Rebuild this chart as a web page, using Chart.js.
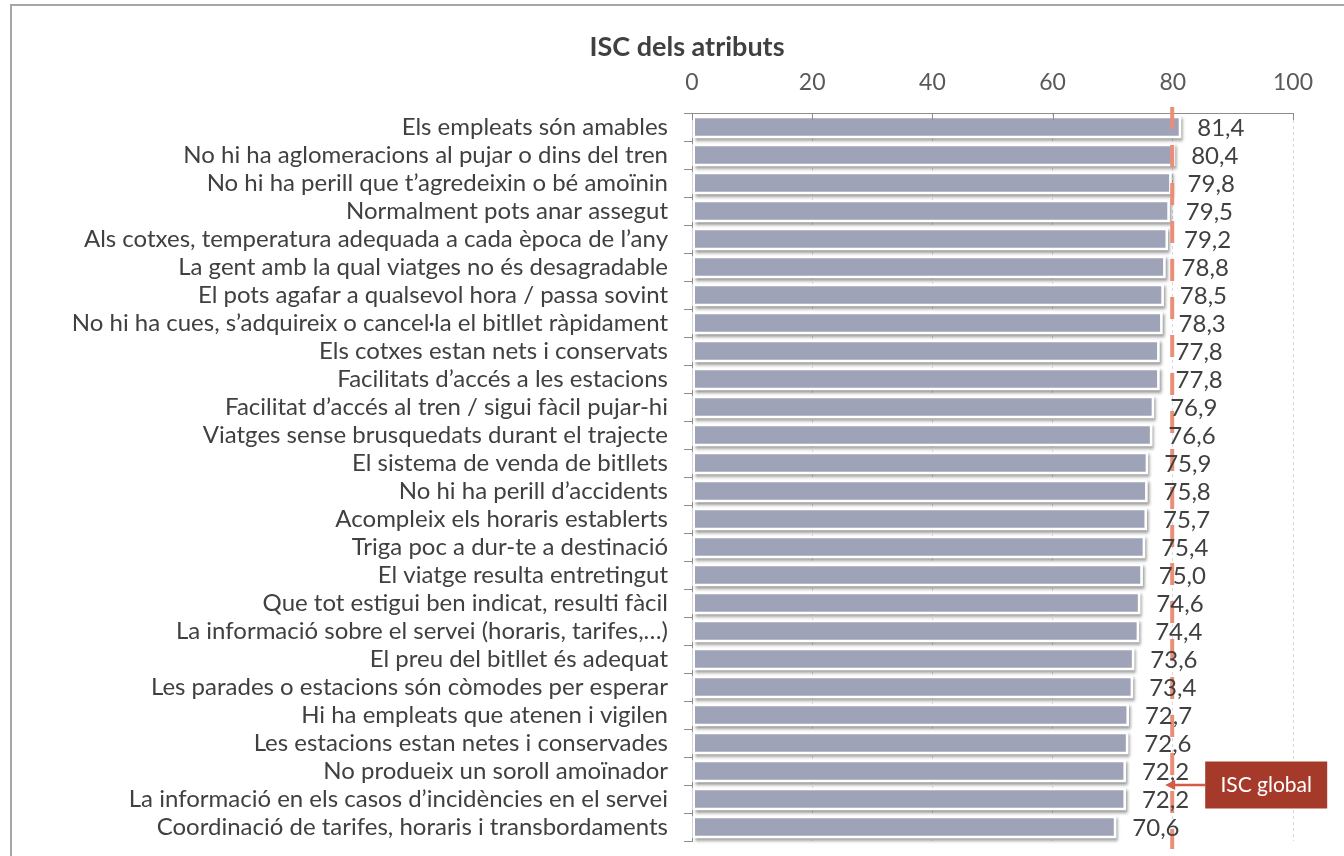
<!DOCTYPE html>
<html>
<head>
<meta charset="utf-8">
<script src="https://cdn.jsdelivr.net/npm/chart.js@4.4.1/dist/chart.umd.min.js"></script>
<style>
  html, body { margin: 0; padding: 0; background: #fff; overflow: hidden; }
  #wrap { position: relative; width: 1344px; height: 856px; }
  #frame { position: absolute; left: 10px; top: 4px; width: 1400px; height: 900px;
           border-top: 2px solid #a6a6a6; border-left: 2px solid #a6a6a6; }
  canvas { position: absolute; left: 0; top: 0; }
</style>
</head>
<body>
<div id="wrap">
  <div id="frame"></div>
  <canvas id="chart" width="1344" height="856"></canvas>
</div>
<script>
// Satisfaction index per attribute, with the global index marked as a dashed line.
const attributes = [
  'Els empleats són amables',
  'No hi ha aglomeracions al pujar o dins del tren',
  'No hi ha perill que t’agredeixin o bé amoïnin',
  'Normalment pots anar assegut',
  'Als cotxes, temperatura adequada a cada època de l’any',
  'La gent amb la qual viatges no és desagradable',
  'El pots agafar a qualsevol hora / passa sovint',
  'No hi ha cues, s’adquireix o cancel·la el bitllet ràpidament',
  'Els cotxes estan nets i conservats',
  'Facilitats d’accés a les estacions',
  'Facilitat d’accés al tren / sigui fàcil pujar-hi',
  'Viatges sense brusquedats durant el trajecte',
  'El sistema de venda de bitllets',
  'No hi ha perill d’accidents',
  'Acompleix els horaris establerts',
  'Triga poc a dur-te a destinació',
  'El viatge resulta entretingut',
  'Que tot estigui ben indicat, resulti fàcil',
  'La informació sobre el servei (horaris, tarifes,…)',
  'El preu del bitllet és adequat',
  'Les parades o estacions són còmodes per esperar',
  'Hi ha empleats que atenen i vigilen',
  'Les estacions estan netes i conservades',
  'No produeix un soroll amoïnador',
  'La informació en els casos d’incidències en el servei',
  'Coordinació de tarifes, horaris i transbordaments',
];
const iscValues = [81.4, 80.4, 79.8, 79.5, 79.2, 78.8, 78.5, 78.3, 77.8, 77.8, 76.9, 76.6, 75.9,
  75.8, 75.7, 75.4, 75.0, 74.6, 74.4, 73.6, 73.4, 72.7, 72.6, 72.2, 72.2, 70.6];
const xTicks = [0, 20, 40, 60, 80, 100];
const iscGlobal = [79.9];
const chartTitle = 'ISC dels atributs';
const globalLabel = 'ISC global';

const FONT = 'Lato, "Open Sans", sans-serif';
const TEXT = '#404040';
const fmt = (v) => v.toFixed(1).replace('.', ',');

const decorations = {
  id: 'decorations',
  beforeDatasetsDraw(chart) {
    // soft drop shadow under each bar
    const { ctx } = chart;
    const meta = chart.getDatasetMeta(0);
    ctx.save();
    ctx.fillStyle = '#ffffff';
    ctx.shadowColor = 'rgba(0,0,0,0.4)';
    ctx.shadowOffsetX = 2;
    ctx.shadowOffsetY = 2.5;
    ctx.shadowBlur = 3;
    meta.data.forEach((bar) => {
      const h = bar.height;
      ctx.fillRect(bar.base, bar.y - h / 2, bar.x - bar.base, h);
    });
    ctx.restore();
  },
  afterDatasetsDraw(chart) {
    const { ctx, chartArea, scales } = chart;
    const x = scales.x;
    const meta = chart.getDatasetMeta(0);

    // inward tick marks on the top axis
    ctx.save();
    ctx.strokeStyle = '#8c8c8c';
    ctx.lineWidth = 1;
    xTicks.forEach((t) => {
      const px = Math.round(x.getPixelForValue(t)) + 0.5;
      ctx.beginPath();
      ctx.moveTo(px, chartArea.top);
      ctx.lineTo(px, chartArea.top + 7);
      ctx.stroke();
    });
    ctx.restore();

    // global index line
    const gx = x.getPixelForValue(iscGlobal[0]);
    ctx.save();
    ctx.strokeStyle = '#e98f78';
    ctx.lineWidth = 4;
    ctx.setLineDash([22, 16]);
    ctx.beginPath();
    ctx.moveTo(gx, chartArea.top - 6);
    ctx.lineTo(gx, chartArea.bottom + 8);
    ctx.stroke();
    ctx.restore();

    // value labels
    ctx.save();
    ctx.font = '24px ' + FONT;
    ctx.fillStyle = TEXT;
    ctx.textAlign = 'left';
    ctx.textBaseline = 'middle';
    meta.data.forEach((bar, i) => {
      ctx.fillText(fmt(iscValues[i]), bar.x + 16, bar.y + 1);
    });
    ctx.restore();

    // callout box with arrow to the global line
    const rowA = meta.data[23].y, rowB = meta.data[24].y;
    const ay = (rowA + rowB) / 2;
    const bx = gx + 33, bw = 122, bh = 47;
    ctx.save();
    ctx.strokeStyle = '#d65a45';
    ctx.fillStyle = '#d65a45';
    ctx.lineWidth = 2.5;
    ctx.beginPath();
    ctx.moveTo(bx, ay);
    ctx.lineTo(gx - 2, ay);
    ctx.stroke();
    ctx.beginPath();
    ctx.moveTo(gx - 7, ay);
    ctx.lineTo(gx + 3, ay - 5);
    ctx.lineTo(gx + 3, ay + 5);
    ctx.closePath();
    ctx.fill();
    ctx.fillStyle = '#a5392a';
    ctx.fillRect(bx, ay - bh / 2, bw, bh);
    ctx.fillStyle = '#ffffff';
    ctx.font = '21px ' + FONT;
    ctx.textAlign = 'center';
    ctx.textBaseline = 'middle';
    ctx.fillText(globalLabel, bx + bw / 2, ay);
    ctx.restore();

    // title
    ctx.save();
    ctx.font = 'bold 27px ' + FONT;
    ctx.fillStyle = TEXT;
    ctx.textAlign = 'center';
    ctx.textBaseline = 'middle';
    ctx.fillText(chartTitle, 687, 47);
    ctx.restore();
  },
};

new Chart(document.getElementById('chart').getContext('2d'), {
  type: 'bar',
  data: {
    labels: attributes,
    datasets: [{
      data: iscValues,
      backgroundColor: '#9ea3b8',
      borderColor: '#ffffff',
      borderWidth: 2.5,
      borderSkipped: false,
      categoryPercentage: 1,
      barPercentage: 0.8,
    }],
  },
  options: {
    indexAxis: 'y',
    responsive: false,
    animation: false,
    layout: { padding: { top: 0, right: 51, bottom: 15, left: 0 } },
    plugins: { legend: { display: false }, tooltip: { enabled: false } },
    scales: {
      x: {
        position: 'top',
        min: 0,
        max: 100,
        afterBuildTicks: (scale) => { scale.ticks = xTicks.map((v) => ({ value: v })); },
        afterFit: (scale) => { scale.height = 113; scale.paddingLeft = 0; scale.paddingRight = 0; },
        ticks: { color: '#595959', font: { family: FONT, size: 23 }, padding: 17 },
        grid: { color: '#d9d9d9', drawTicks: false },
        border: { display: true, color: '#8c8c8c', dash: [3, 3] },
      },
      y: {
        afterFit: (scale) => { scale.width = 692; scale.paddingTop = 0; scale.paddingBottom = 0; },
        ticks: { color: TEXT, font: { family: FONT, size: 24 }, padding: 16, autoSkip: false },
        grid: { offset: true, drawOnChartArea: false, drawTicks: true, tickLength: 8, color: '#8c8c8c' },
        border: { display: true, color: '#8c8c8c' },
      },
    },
  },
  plugins: [decorations],
});
</script>
</body>
</html>
